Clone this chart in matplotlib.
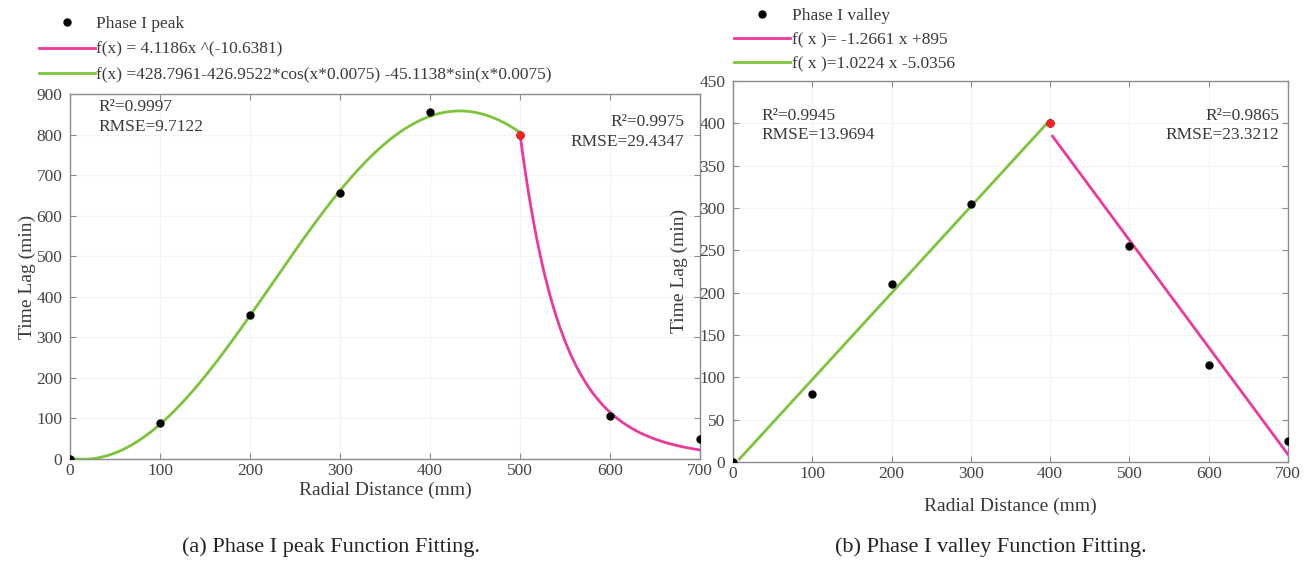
import numpy as np
import matplotlib
matplotlib.use("Agg")
import matplotlib.pyplot as plt

plt.rcParams['font.family'] = ['Liberation Serif', 'DejaVu Serif']
plt.rcParams['mathtext.fontset'] = 'stix'

# ---- data (a) Phase I peak
peak_x = [0, 100, 200, 300, 400, 500, 600, 700]
peak_y = [0, 90, 355, 655, 855, 800, 105, 50]
peak_break = 500
# green: a + b*cos(w*x) + c*sin(w*x)
peak_fourier = [428.7961, -426.9522, -45.1138, 0.0075]
# pink: a*(x/s)^b  (s rescales x so the curve meets the breakpoint)
peak_power = [4.1186, -10.6381, 820.5]
peak_stats_l = ["R²=0.9997", "RMSE=9.7122"]
peak_stats_r = ["R²=0.9975", "RMSE=29.4347"]

# ---- data (b) Phase I valley
valley_x = [0, 100, 200, 300, 400, 500, 600, 700]
valley_y = [0, 80, 210, 305, 400, 255, 115, 25]
valley_break = 400
valley_up = [1.0224, -5.0356]
valley_down = [-1.2661, 895]
valley_stats_l = ["R²=0.9945", "RMSE=13.9694"]
valley_stats_r = ["R²=0.9865", "RMSE=23.3212"]

PINK = '#ec3a9c'
GREEN = '#7cc53a'
TXT = '#3a3a3a'
SPINE = '#8c8c8c'

fig = plt.figure(figsize=(13.14, 5.66), dpi=100)
ax1 = fig.add_axes([0.0533, 0.189, 0.4795, 0.645])
ax2 = fig.add_axes([0.5578, 0.184, 0.4224, 0.673])


def style(ax, ymax, ystep, xlabelpad, ylabelpad):
    ax.set_xlim(0, 700)
    ax.set_ylim(0, ymax)
    ax.set_xticks(np.arange(0, 701, 100))
    ax.set_yticks(np.arange(0, ymax + 1, ystep))
    ax.tick_params(direction='in', top=True, right=True, length=4,
                   labelsize=12.5, colors=SPINE, labelcolor='#444444', pad=3)
    ax.tick_params(axis='y', pad=5.5)
    for s in ax.spines.values():
        s.set_color(SPINE)
        s.set_linewidth(1.0)
    ax.grid(True, color='#f3f3f3', linewidth=0.8)
    ax.set_axisbelow(True)
    ax.set_xlabel('Radial Distance (mm)', fontsize=14, color=TXT, labelpad=xlabelpad)
    ax.set_ylabel('Time Lag (min)', fontsize=14, color=TXT, labelpad=ylabelpad)


# (a)
style(ax1, 900, 100, 2, 0)
xg = np.linspace(0, peak_break, 300)
a, b, c, w = peak_fourier
yg = a + b * np.cos(w * xg) + c * np.sin(w * xg)
xp = np.linspace(peak_break, 700, 200)
k, p, s = peak_power
yp = k * (xp / s) ** p
ax1.plot(peak_x, peak_y, 'o', color='black', ms=5, label='Phase I peak', zorder=4)
ax1.plot(xp, yp, color=PINK, lw=2, label='f(x) = 4.1186x ^(-10.6381)', zorder=3)
ax1.plot(xg, yg, color=GREEN, lw=2,
         label='f(x) =428.7961-426.9522*cos(x*0.0075) -45.1138*sin(x*0.0075)', zorder=3)
i = peak_x.index(peak_break)
ax1.plot(peak_x[i], peak_y[i], 'o', color='#ff2020', ms=5, zorder=5)
ax1.text(0.045, 0.985, "\n".join(peak_stats_l), transform=ax1.transAxes,
         ha='left', va='top', fontsize=12.5, color=TXT, linespacing=1.3)
ax1.text(0.975, 0.945, "\n".join(peak_stats_r), transform=ax1.transAxes,
         ha='right', va='top', fontsize=12.5, color=TXT, linespacing=1.3)
ax1.legend(loc='lower left', bbox_to_anchor=(-0.06, 1.01), frameon=False,
           fontsize=12.5, handlelength=3.2, handletextpad=0.1, labelspacing=0.55,
           borderaxespad=0, labelcolor=TXT)

# (b)
style(ax2, 450, 50, 11, 8)
xu = np.linspace(0, valley_break, 50)
yu = valley_up[0] * xu + valley_up[1]
m = yu >= 0
xd = np.linspace(valley_break + 3, 700, 50)
yd = valley_down[0] * xd + valley_down[1]
ax2.plot(valley_x, valley_y, 'o', color='black', ms=5, label='Phase I valley', zorder=4)
ax2.plot(xd, yd, color=PINK, lw=2, label='f( x )= -1.2661 x +895', zorder=3)
ax2.plot(xu[m], yu[m], color=GREEN, lw=2, label='f( x )=1.0224 x -5.0356', zorder=3)
j = valley_x.index(valley_break)
ax2.plot(valley_x[j], valley_y[j], 'o', color='#ff2020', ms=5, zorder=5)
ax2.text(0.052, 0.93, "\n".join(valley_stats_l), transform=ax2.transAxes,
         ha='left', va='top', fontsize=12.5, color=TXT, linespacing=1.3)
ax2.text(0.985, 0.93, "\n".join(valley_stats_r), transform=ax2.transAxes,
         ha='right', va='top', fontsize=12.5, color=TXT, linespacing=1.3)
ax2.legend(loc='lower left', bbox_to_anchor=(-0.01, 1.005), frameon=False,
           fontsize=12.5, handlelength=3.2, handletextpad=0.1, labelspacing=0.45,
           borderaxespad=0, labelcolor=TXT)

fig.text(0.252, 0.025, '(a) Phase I peak Function Fitting.', ha='center',
         fontsize=16, color='#222222')
fig.text(0.754, 0.025, '(b) Phase I valley Function Fitting.', ha='center',
         fontsize=16, color='#222222')

fig.savefig('out.png', dpi=100)
